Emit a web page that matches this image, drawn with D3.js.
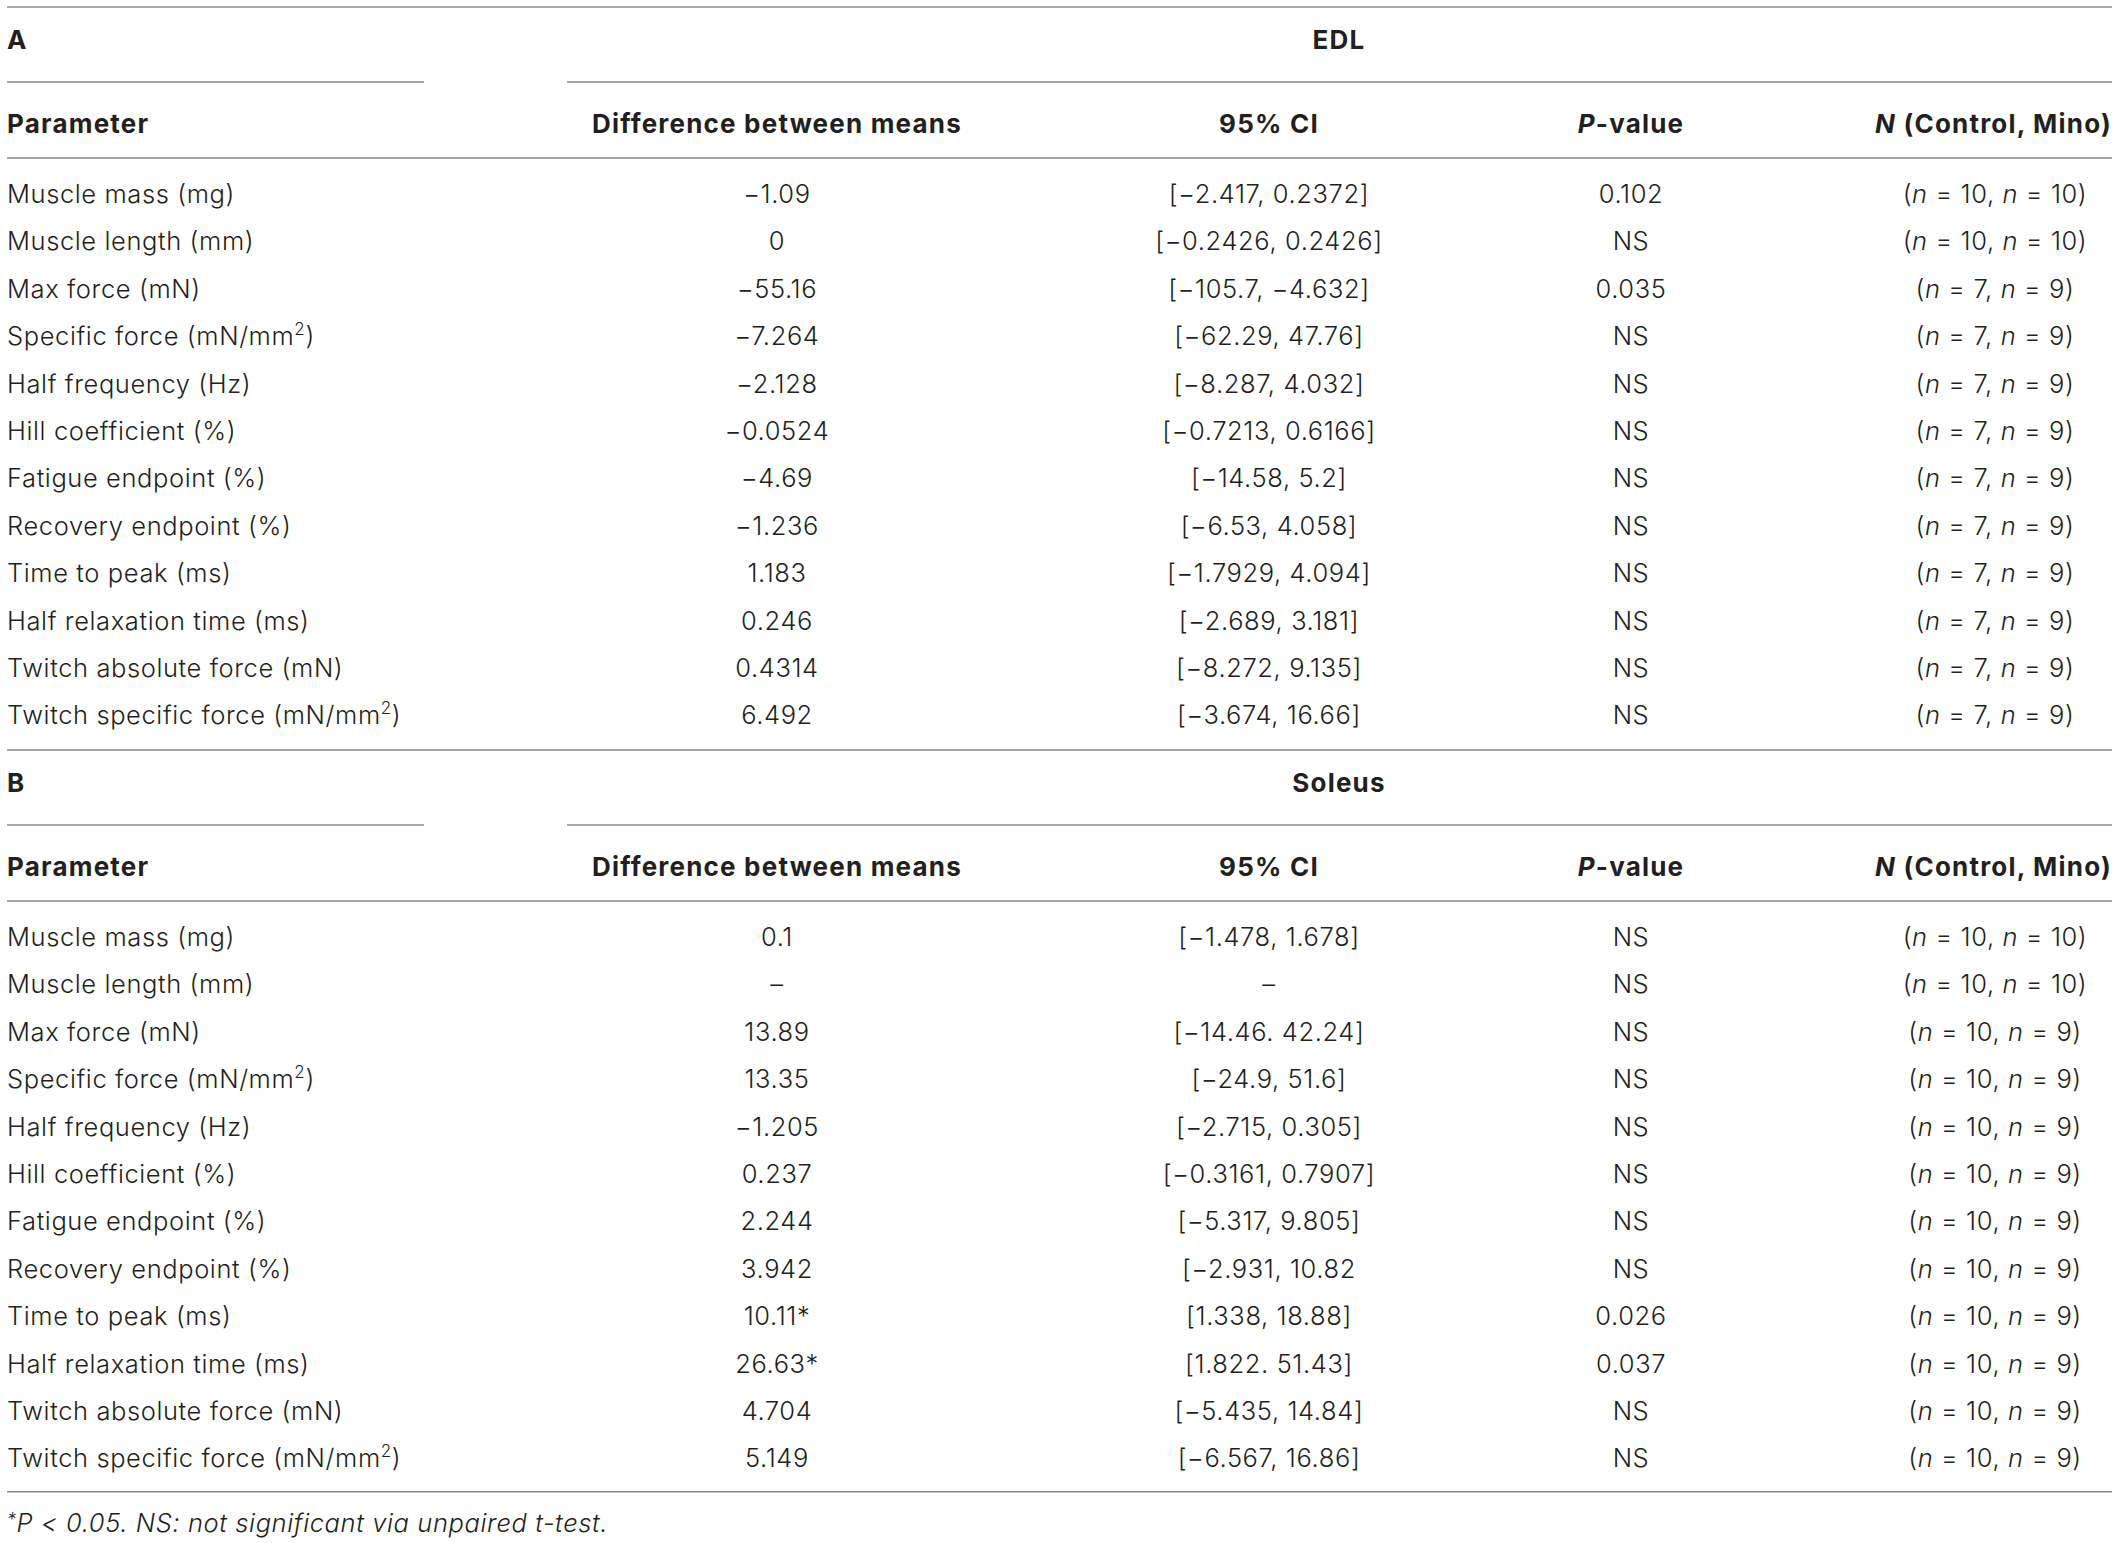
<!DOCTYPE html>
<html>
<head>
<meta charset="utf-8">
<script src="https://cdn.jsdelivr.net/npm/d3@7"></script>
<style>
  html, body { margin: 0; padding: 0; background: #fff; }
  svg text { font-family: Inter, "Liberation Sans", sans-serif; fill: #231f20; }
  .body { font-weight: 300; font-size: 25.5px; letter-spacing: 0.6px; }
  .bold { font-weight: 700; font-size: 26px; letter-spacing: 1.2px; }
</style>
</head>
<body>
<div data-js-table></div>
<script>
// parameters (shared by both muscles), "^2" marks a superscript
const parameters = [
  'Muscle mass (mg)',
  'Muscle length (mm)',
  'Max force (mN)',
  'Specific force (mN/mm^2)',
  'Half frequency (Hz)',
  'Hill coefficient (%)',
  'Fatigue endpoint (%)',
  'Recovery endpoint (%)',
  'Time to peak (ms)',
  'Half relaxation time (ms)',
  'Twitch absolute force (mN)',
  'Twitch specific force (mN/mm^2)',
];

// EDL
const edlDiff = ['−1.09', '0', '−55.16', '−7.264', '−2.128', '−0.0524', '−4.69', '−1.236', '1.183', '0.246', '0.4314', '6.492'];
const edlCI = ['[−2.417, 0.2372]', '[−0.2426, 0.2426]', '[−105.7, −4.632]', '[−62.29, 47.76]', '[−8.287, 4.032]',
  '[−0.7213, 0.6166]', '[−14.58, 5.2]', '[−6.53, 4.058]', '[−1.7929, 4.094]', '[−2.689, 3.181]',
  '[−8.272, 9.135]', '[−3.674, 16.66]'];
const edlP = ['0.102', 'NS', '0.035', 'NS', 'NS', 'NS', 'NS', 'NS', 'NS', 'NS', 'NS', 'NS'];
const edlN = [[10, 10], [10, 10], [7, 9], [7, 9], [7, 9], [7, 9], [7, 9], [7, 9], [7, 9], [7, 9], [7, 9], [7, 9]];

// Soleus
const solDiff = ['0.1', '–', '13.89', '13.35', '−1.205', '0.237', '2.244', '3.942', '10.11*', '26.63*', '4.704', '5.149'];
const solCI = ['[−1.478, 1.678]', '–', '[−14.46. 42.24]', '[−24.9, 51.6]', '[−2.715, 0.305]',
  '[−0.3161, 0.7907]', '[−5.317, 9.805]', '[−2.931, 10.82', '[1.338, 18.88]', '[1.822. 51.43]',
  '[−5.435, 14.84]', '[−6.567, 16.86]'];
const solP = ['NS', 'NS', 'NS', 'NS', 'NS', 'NS', 'NS', 'NS', '0.026', '0.037', 'NS', 'NS'];
const solN = [[10, 10], [10, 10], [10, 9], [10, 9], [10, 9], [10, 9], [10, 9], [10, 9], [10, 9], [10, 9], [10, 9], [10, 9]];

const sections = [
  { letter: 'A', title: 'EDL', diff: edlDiff, ci: edlCI, p: edlP, n: edlN },
  { letter: 'B', title: 'Soleus', diff: solDiff, ci: solCI, p: solP, n: solN },
];

const footnote = 'P < 0.05. NS: not significant via unpaired t-test.';

const SETTING = {
  width: 2118,
  height: 1543,
  left: 7,
  right: 2112,
  sectionTop: 7,
  sectionStep: 743,
  rowHeight: 47.4,
  rule: '#8a8a8a',
};

// column centres
const col = d3.scaleOrdinal()
  .domain(['diff', 'ci', 'p', 'n'])
  .range([777, 1269, 1631, 1995]);

const svg = d3.select('[data-js-table]').append('svg')
  .attr('width', SETTING.width)
  .attr('height', SETTING.height);

function hline(g, x1, x2, y) {
  g.append('line')
    .attr('x1', x1).attr('x2', x2)
    .attr('y1', y).attr('y2', y)
    .attr('stroke', SETTING.rule)
    .attr('stroke-width', 1.6);
}

// label with optional ^2 superscript
function addLabel(sel, str) {
  const parts = str.split('^2');
  sel.append('tspan').text(parts[0]);
  if (parts.length > 1) {
    sel.append('tspan').attr('dy', -10).attr('font-size', 17).text('2');
    sel.append('tspan').attr('dy', 10).text(parts[1]);
  }
}

sections.forEach((sec, s) => {
  const top = SETTING.sectionTop + s * SETTING.sectionStep;
  const g = svg.append('g').attr('transform', `translate(0,${top})`);

  hline(g, SETTING.left, SETTING.right, 0);

  g.append('text').attr('class', 'bold')
    .attr('x', SETTING.left).attr('y', 42)
    .text(sec.letter);
  g.append('text').attr('class', 'bold')
    .attr('x', 1339).attr('y', 42)
    .attr('text-anchor', 'middle')
    .text(sec.title);

  hline(g, SETTING.left, 424, 75);
  hline(g, 567, SETTING.right, 75);

  // header
  const hy = 126;
  g.append('text').attr('class', 'bold')
    .attr('x', SETTING.left).attr('y', hy)
    .text('Parameter');
  g.append('text').attr('class', 'bold')
    .attr('x', col('diff')).attr('y', hy).attr('text-anchor', 'middle')
    .text('Difference between means');
  g.append('text').attr('class', 'bold')
    .attr('x', col('ci')).attr('y', hy).attr('text-anchor', 'middle')
    .text('95% CI');
  const ph = g.append('text').attr('class', 'bold')
    .attr('x', col('p')).attr('y', hy).attr('text-anchor', 'middle');
  ph.append('tspan').attr('font-style', 'italic').text('P');
  ph.append('tspan').text('-value');
  const nh = g.append('text').attr('class', 'bold')
    .attr('x', SETTING.right).attr('y', hy).attr('text-anchor', 'end');
  nh.append('tspan').attr('font-style', 'italic').text('N');
  nh.append('tspan').text(' (Control, Mino)');

  hline(g, SETTING.left, SETTING.right, 151);

  // rows
  const y = d3.scaleBand()
    .domain(d3.range(parameters.length))
    .range([159, 159 + parameters.length * SETTING.rowHeight]);
  const base = 37;

  const rows = g.append('g').selectAll('g')
    .data(parameters.map((p, i) => ({
      label: p, diff: sec.diff[i], ci: sec.ci[i], p: sec.p[i], n: sec.n[i], i,
    })))
    .join('g')
    .attr('class', 'body')
    .attr('transform', (d) => `translate(0,${y(d.i) + base})`);

  rows.append('text').attr('x', SETTING.left)
    .each(function (d) { addLabel(d3.select(this), d.label); });
  rows.append('text').attr('x', col('diff')).attr('text-anchor', 'middle').text((d) => d.diff);
  rows.append('text').attr('x', col('ci')).attr('text-anchor', 'middle').text((d) => d.ci);
  rows.append('text').attr('x', col('p')).attr('text-anchor', 'middle').text((d) => d.p);
  rows.append('text').attr('x', col('n')).attr('text-anchor', 'middle')
    .each(function (d) {
      const t = d3.select(this);
      t.append('tspan').text('(');
      t.append('tspan').attr('font-style', 'italic').text('n');
      t.append('tspan').text(` = ${d.n[0]}, `);
      t.append('tspan').attr('font-style', 'italic').text('n');
      t.append('tspan').text(` = ${d.n[1]})`);
    });

  if (s === sections.length - 1) {
    hline(g, SETTING.left, SETTING.right, y.range()[1] + 14);
  }
});

// footnote
const fn = svg.append('text').attr('class', 'body')
  .attr('x', SETTING.left).attr('y', 1532)
  .attr('font-style', 'italic');
fn.append('tspan').attr('font-size', 18).attr('dy', -6).text('*');
fn.append('tspan').attr('dy', 6).text(footnote);
</script>
</body>
</html>
